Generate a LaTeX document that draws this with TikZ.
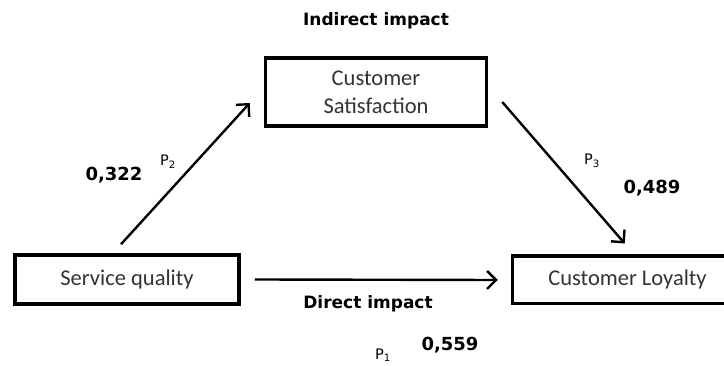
\documentclass[tikz,border=0pt]{standalone}
\usepackage{fontspec}
\setmainfont{Carlito}
\newfontfamily\labfont{DejaVu Sans}
\usetikzlibrary{arrows.meta,calc}
\tikzset{
  box/.style={draw=black, line width=3.5pt, inner sep=0pt, align=center, font=\fontsize{22.5}{28}\selectfont, text=black!80},
  arr/.style={line width=2.4pt, -{Straight Barb[length=9pt,width=18pt,line width=2.4pt]}},
  bold/.style={font=\labfont\bfseries\fontsize{17}{19}\selectfont, inner sep=0pt},
  num/.style={font=\labfont\bfseries\fontsize{18}{20}\selectfont, inner sep=0pt},
  pl/.style={font=\labfont\fontsize{14.5}{16}\selectfont, inner sep=0pt}
}
\begin{document}
\begin{tikzpicture}[x=1pt,y=-1pt]
\useasboundingbox (0,0) rectangle (724,366);
\clip (0,0) rectangle (724,366);
\node[box, minimum width=224pt, minimum height=49pt] (sq) at (127,279.5) {Service quality};
\node[box, minimum width=221pt, minimum height=68pt] (cs) at (376,92) {Customer\\Satisfaction};
\node[box, minimum width=230pt, minimum height=47.5pt] (cl) at (627.5,280) {Customer Loyalty};
\coordinate (a1) at ($(sq.north)+(-6,-9)$);
\coordinate (a2) at ($(cs.west)+(-14,11)$);
\draw[arr] (a1) -- (a2);
\coordinate (b1) at ($(cs.east)+(14,10)$);
\coordinate (b2) at ($(cl.north west)+(114,-11)$);
\draw[arr] (b1) -- (b2);
\coordinate (c1) at ($(sq.east)+(14,0)$);
\coordinate (c2) at ($(cl.west)+(-13,0)$);
\draw[arr] (c1) -- (c2);
\node[bold] (ind) at (376,21) {Indirect impact};
\node[bold] (dir) at (368,304) {Direct impact};
\node[num] (n1) at (114,175) {0,322};
\node[pl] (p2) at (168,162) {P\textsubscript{2}};
\node[pl] (p3) at (592,161) {P\textsubscript{3}};
\node[num] (n3) at (652,188) {0,489};
\node[pl] (p1) at (383,355) {P\textsubscript{1}};
\node[num] (n2) at (450,345) {0,559};
\end{tikzpicture}
\end{document}
